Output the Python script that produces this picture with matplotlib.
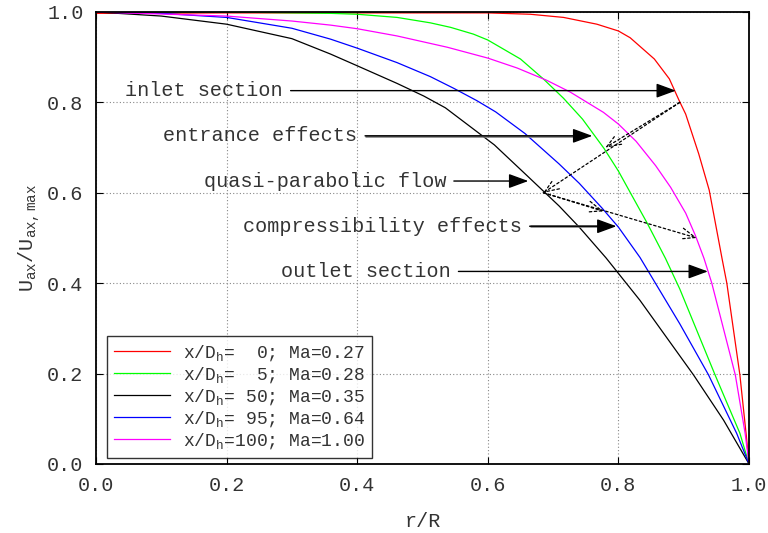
import matplotlib
matplotlib.use("Agg")
import matplotlib.pyplot as plt
import numpy as np

plt.rcParams['font.family'] = ['Liberation Mono', 'DejaVu Sans Mono']
plt.rcParams['mathtext.fontset'] = 'custom'
plt.rcParams['mathtext.rm'] = 'Liberation Mono'
plt.rcParams['mathtext.it'] = 'Liberation Mono'

# velocity profiles
r_red = [0, 0.2, 0.4, 0.6, 0.665, 0.716, 0.767, 0.8, 0.818, 0.855, 0.878, 0.893, 0.903,
         0.923, 0.939, 0.959, 0.966, 0.986, 0.996, 1.0]
u_red = [0.997, 0.998, 0.998, 0.998, 0.995, 0.988, 0.973, 0.958, 0.943, 0.896, 0.852, 0.804, 0.774,
         0.686, 0.606, 0.452, 0.40, 0.197, 0.06, 0.0]

r_green = [0, 0.2, 0.359, 0.4, 0.461, 0.512, 0.543, 0.578, 0.6, 0.65, 0.685, 0.716, 0.745,
           0.778, 0.8, 0.821, 0.844, 0.872, 0.894, 0.948, 0.986, 1.0]
u_green = [1.0, 1.0, 0.997, 0.995, 0.988, 0.976, 0.966, 0.951, 0.938, 0.896, 0.852, 0.809, 0.763,
           0.698, 0.648, 0.593, 0.533, 0.455, 0.387, 0.197, 0.068, 0.0]

r_black = [0, 0.1, 0.2, 0.3, 0.359, 0.4, 0.461, 0.502, 0.535, 0.61, 0.66, 0.709, 0.74,
           0.781, 0.833, 0.915, 0.961, 1.0]
u_black = [1.0, 0.991, 0.973, 0.941, 0.907, 0.881, 0.842, 0.814, 0.788, 0.706, 0.638, 0.571, 0.524,
           0.456, 0.362, 0.197, 0.097, 0.0]

r_blue = [0, 0.1, 0.2, 0.3, 0.359, 0.4, 0.461, 0.512, 0.548, 0.583, 0.612, 0.657, 0.709, 0.74,
          0.775, 0.8, 0.833, 0.894, 0.938, 0.981, 1.0]
u_blue = [1.0, 0.997, 0.988, 0.964, 0.940, 0.920, 0.888, 0.857, 0.831, 0.804, 0.779, 0.731, 0.664, 0.621,
          0.566, 0.524, 0.457, 0.310, 0.197, 0.068, 0.0]

r_mag = [0, 0.2, 0.3, 0.359, 0.4, 0.461, 0.538, 0.6, 0.645, 0.69, 0.726, 0.777, 0.8, 0.827,
         0.857, 0.88, 0.903, 0.918, 0.931, 0.943, 0.979, 0.994, 1.0]
u_mag = [1.0, 0.991, 0.98, 0.971, 0.963, 0.947, 0.922, 0.898, 0.876, 0.849, 0.823, 0.778, 0.752, 0.714,
         0.660, 0.612, 0.555, 0.505, 0.455, 0.40, 0.197, 0.068, 0.0]

labels = [r"x/D$_\mathrm{h}$=  0; Ma=0.27",
          r"x/D$_\mathrm{h}$=  5; Ma=0.28",
          r"x/D$_\mathrm{h}$= 50; Ma=0.35",
          r"x/D$_\mathrm{h}$= 95; Ma=0.64",
          r"x/D$_\mathrm{h}$=100; Ma=1.00"]

profiles = [(r_red, u_red, '#ff0000'),
            (r_green, u_green, '#00ff00'),
            (r_black, u_black, '#000000'),
            (r_blue, u_blue, '#0000ff'),
            (r_mag, u_mag, '#ff00ff')]

# text, right end of text, arrow tip (r, u), grey shaft?
notes = [("inlet section", 0.286, 0.888, 0.826, False),
         ("entrance effects", 0.400, 0.760, 0.726, True),
         ("quasi-parabolic flow", 0.536, 0.662, 0.626, False),
         ("compressibility effects", 0.652, 0.797, 0.526, True),
         ("outlet section", 0.543, 0.937, 0.426, False)]

# dotted arrows: start and end
dotted = [((0.894, 0.80), (0.685, 0.600)),
          ((0.894, 0.80), (0.780, 0.700)),
          ((0.685, 0.60), (0.920, 0.500)),
          ((0.685, 0.60), (0.777, 0.559))]

fs = 14.5
txt_col = '#333333'
fig = plt.figure(figsize=(7.68, 5.33), dpi=100)
ax = fig.add_axes([0.125, 0.1295, 0.8503, 0.848])

for (r, u, c), lab in zip(profiles, labels):
    ax.plot(r, u, color=c, lw=0.9, label=lab)

ticks = np.arange(0, 1.01, 0.2)
ax.set_xlim(0, 1)
ax.set_ylim(0, 1)
ax.set_xticks(ticks)
ax.set_yticks(ticks)
ax.set_xticklabels([f"{v:.1f}" for v in ticks])
ax.set_yticklabels([f"{v:.1f}" for v in ticks])
ax.tick_params(direction='in', length=5, width=0.8, top=True, right=True,
               labelsize=fs, colors='black', labelcolor=txt_col, pad=9)
ax.grid(True, color='#888888', lw=0.8, ls=(0, (1, 2)))
for s in ax.spines.values():
    s.set_linewidth(1.3)

ax.set_xlabel("r/R", fontsize=fs, color=txt_col, labelpad=12)
ax.set_ylabel(r"U$_\mathrm{ax}$/U$_\mathrm{ax,max}$", fontsize=fs, color=txt_col, labelpad=4)

for text, xr, tx, ty, grey in notes:
    ax.text(xr, ty, text, ha='right', va='center', fontsize=fs, color=txt_col)
    x0 = xr + 0.012
    ax.annotate('', xy=(tx, ty), xytext=(x0, ty),
                arrowprops=dict(arrowstyle='-|>,head_length=0.6,head_width=0.22',
                                color='black', lw=1.0, shrinkA=0, shrinkB=0,
                                mutation_scale=20))
    if grey:
        ax.plot([x0, tx - 0.03], [ty, ty], color='#777777', lw=1.8, solid_capstyle='butt')

for (sx, sy), (ex, ey) in dotted:
    ax.annotate('', xy=(ex, ey), xytext=(sx, sy),
                arrowprops=dict(arrowstyle='->,head_length=0.5,head_width=0.2',
                                color='black', lw=0.9, ls=(0, (2, 2)),
                                shrinkA=0, shrinkB=0, mutation_scale=20))

leg = ax.legend(loc='lower left', bbox_to_anchor=(0.017, 0.013), fontsize=13,
                frameon=True, fancybox=False, edgecolor='black', handlelength=3.1,
                handletextpad=0.7, labelspacing=0.13, borderpad=0.4,
                borderaxespad=0)
leg.get_frame().set_linewidth(1.0)
for t in leg.get_texts():
    t.set_color(txt_col)

fig.savefig("out.png", dpi=100)
